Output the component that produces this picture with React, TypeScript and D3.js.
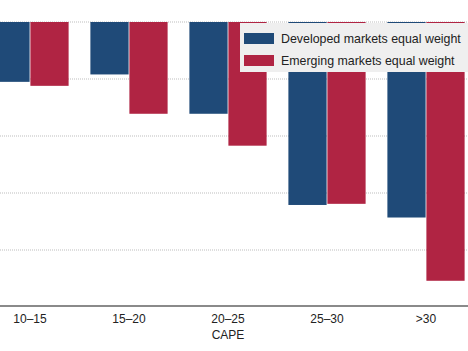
import React, { useEffect, useRef } from 'react';
import * as d3 from 'd3';

const categories = ['10–15', '15–20', '20–25', '25–30', '>30'];
const seriesNames = ['Developed markets equal weight', 'Emerging markets equal weight'];
const developed = [-1.05, -0.92, -1.61, -3.21, -3.43];
const emerging = [-1.12, -1.61, -2.17, -3.19, -4.54];
const yTicks = [0, -1, -2, -3, -4];

const colors = ['#1f4a78', '#b02443'];

const App: React.FC = () => {
  const svgRef = useRef<SVGSVGElement>(null);

  useEffect(() => {
    if (!svgRef.current) return;
    const width = 468;
    const svg = d3.select(svgRef.current);
    svg.selectAll('*').remove();

    const font = '"Liberation Sans", Arial, sans-serif';

    // x scale: the reference is cropped on the left, so the range starts below 0
    const x0 = d3.scaleBand<string>()
      .domain(categories)
      .range([-19.5, 475.5])
      .paddingInner(0.22)
      .paddingOuter(0.11);

    const x1 = d3.scaleBand<string>()
      .domain(seriesNames)
      .range([0, x0.bandwidth()])
      .paddingInner(0.02);

    const y = d3.scaleLinear().domain([-5, 0]).range([307, 22]);

    // Gridlines
    svg.append('g')
      .selectAll('line')
      .data(yTicks)
      .enter()
      .append('line')
      .attr('x1', 0)
      .attr('x2', width)
      .attr('y1', d => y(d))
      .attr('y2', d => y(d))
      .attr('stroke', '#bdbdbd')
      .attr('stroke-width', 1)
      .attr('stroke-dasharray', '1,1');

    // Bars
    const values = [developed, emerging];
    seriesNames.forEach((name, s) => {
      svg.append('g')
        .selectAll('rect')
        .data(values[s])
        .enter()
        .append('rect')
        .attr('x', (_, i) => (x0(categories[i]) as number) + (x1(name) as number))
        .attr('y', y(0))
        .attr('width', x1.bandwidth())
        .attr('height', d => y(d) - y(0))
        .attr('fill', colors[s]);
    });

    // X axis line
    svg.append('line')
      .attr('x1', 0)
      .attr('x2', width)
      .attr('y1', y(-5) - 1)
      .attr('y2', y(-5) - 1)
      .attr('stroke', '#8a8a8a')
      .attr('stroke-width', 2);

    // Tick labels
    svg.append('g')
      .selectAll('text')
      .data(categories)
      .enter()
      .append('text')
      .attr('x', d => (x0(d) as number) + x0.bandwidth() / 2)
      .attr('y', 323)
      .attr('text-anchor', 'middle')
      .style('font-family', font)
      .style('font-size', '12px')
      .attr('fill', '#222')
      .text(d => d);

    svg.append('text')
      .attr('x', 228)
      .attr('y', 339)
      .attr('text-anchor', 'middle')
      .style('font-family', font)
      .style('font-size', '12px')
      .attr('fill', '#222')
      .text('CAPE');

    // Legend
    const legend = svg.append('g').attr('transform', 'translate(240,23)');
    legend.append('rect')
      .attr('width', 232)
      .attr('height', 49)
      .attr('fill', '#efefef');

    seriesNames.forEach((name, i) => {
      const item = legend.append('g').attr('transform', `translate(4,${10 + i * 22})`);
      item.append('rect')
        .attr('width', 30)
        .attr('height', 11)
        .attr('fill', colors[i]);
      item.append('text')
        .attr('x', 37)
        .attr('y', 10)
        .style('font-family', font)
        .style('font-size', '12.4px')
        .attr('fill', '#222')
        .text(name);
    });
  }, []);

  return (
    <svg
      ref={svgRef}
      width={468}
      height={351}
      style={{ position: 'absolute', left: 0, top: 0, background: '#fff' }}
    />
  );
};

export default App;
